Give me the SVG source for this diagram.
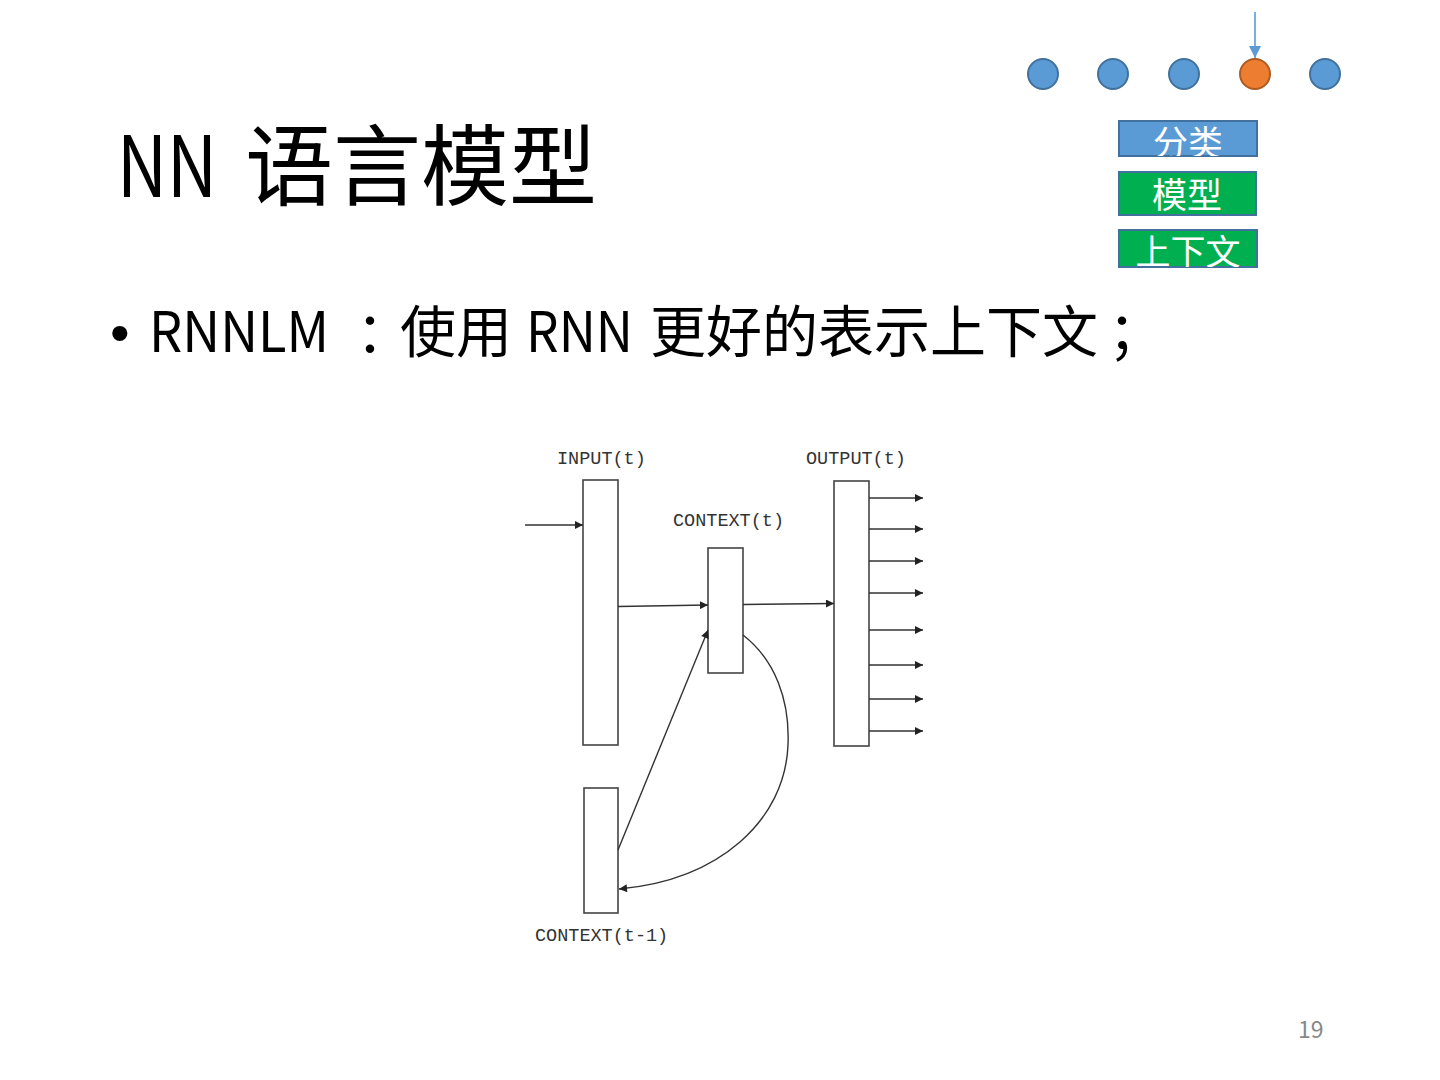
<svg xmlns="http://www.w3.org/2000/svg" width="1440" height="1080" viewBox="0 0 1440 1080">
<defs>
<style>
.cjk{font-family:"Noto Sans CJK SC","Noto Sans",sans-serif;}
.mono{font-family:"Liberation Mono","DejaVu Sans Mono",monospace;font-size:18.5px;fill:#333;}
.dot{fill:#5B9BD5;stroke:#41719C;stroke-width:2;}
.dot.cur{fill:#ED7D31;stroke:#AE5A21;}
.tag{stroke:#41719C;stroke-width:2;}
.tagtxt{fill:#fff;font-size:35px;}
.layer{fill:#fff;stroke:#444;stroke-width:1.6;}
.conn{fill:none;stroke:#333;stroke-width:1.4;}
.b{font-size:56px;fill:#000;}
</style>
<marker id="ah" viewBox="0 0 10 10" refX="10" refY="5" markerWidth="10" markerHeight="8" markerUnits="userSpaceOnUse" orient="auto">
<path d="M0,0 L10,5 L0,10 z" fill="#222"/>
</marker>
<marker id="bah" viewBox="0 0 10 10" refX="10" refY="5" markerWidth="12" markerHeight="12" markerUnits="userSpaceOnUse" orient="auto">
<path d="M0,0 L10,5 L0,10 z" fill="#5B9BD5"/>
</marker>
<clipPath id="c1"><rect x="1119" y="121" width="138" height="35"/></clipPath>
<clipPath id="c3"><rect x="1119" y="230" width="138" height="37"/></clipPath>
</defs>
<rect width="1440" height="1080" fill="#fff"/>

<g id="title">
<text class="cjk" x="117" y="197" font-size="84" fill="#000" textLength="100" lengthAdjust="spacingAndGlyphs">NN</text>
<text class="cjk" x="245" y="198" font-size="88" fill="#000">语言模型</text>
</g>
<g id="bullet">
<text x="110" y="352" font-family="Liberation Sans, sans-serif" font-size="56" fill="#000">•</text>
<text class="cjk b" x="149" y="352" textLength="180" lengthAdjust="spacingAndGlyphs">RNNLM</text>
<text class="cjk b" x="356 400 456" y="352">：使用</text>
<text class="cjk b" x="526" y="352" textLength="107" lengthAdjust="spacingAndGlyphs">RNN</text>
<text class="cjk b" x="650 706 762 818 874 930 986 1042 1108" y="352">更好的表示上下文；</text>
</g>

<g id="progress">
<circle class="dot" cx="1043" cy="74" r="15"/>
<circle class="dot" cx="1113" cy="74" r="15"/>
<circle class="dot" cx="1184" cy="74" r="15"/>
<circle class="dot cur" cx="1255" cy="74" r="15"/>
<circle class="dot" cx="1325" cy="74" r="15"/>
<line x1="1255" y1="12" x2="1255" y2="58" stroke="#5B9BD5" stroke-width="1.6" marker-end="url(#bah)"/>
</g>

<g id="tag-fenlei"><rect class="tag" x="1119" y="121" width="138" height="35" fill="#5B9BD5"/><text class="cjk tagtxt" x="1188" y="156" text-anchor="middle" clip-path="url(#c1)">分类</text></g>
<g id="tag-moxing"><rect class="tag" x="1119" y="172" width="137" height="43" fill="#00B050"/><text class="cjk tagtxt" x="1187" y="208" text-anchor="middle">模型</text></g>
<g id="tag-context"><rect class="tag" x="1119" y="230" width="138" height="37" fill="#00B050"/><text class="cjk tagtxt" x="1188" y="265" text-anchor="middle" clip-path="url(#c3)">上下文</text></g>

<g id="input"><rect class="layer" x="583" y="480" width="35" height="265"/><text class="mono" x="557" y="464">INPUT(t)</text></g>
<g id="context-t"><rect class="layer" x="708" y="548" width="35" height="125"/><text class="mono" x="673" y="526">CONTEXT(t)</text></g>
<g id="output"><rect class="layer" x="834" y="481" width="35" height="265"/><text class="mono" x="806" y="464">OUTPUT(t)</text></g>
<g id="context-t1"><rect class="layer" x="584" y="788" width="34" height="125"/><text class="mono" x="535" y="941">CONTEXT(t-1)</text></g>

<g id="connectors">
<line class="conn" x1="525" y1="525" x2="583" y2="525" marker-end="url(#ah)"/>
<line class="conn" x1="618" y1="606.5" x2="708" y2="605" marker-end="url(#ah)"/>
<line class="conn" x1="743" y1="604.5" x2="834" y2="603.5" marker-end="url(#ah)"/>
<line class="conn" x1="618" y1="850" x2="708" y2="630" marker-end="url(#ah)"/>
<path class="conn" d="M743,635 C775,660 790,700 788,745 C785,820 720,880 619,889" marker-end="url(#ah)"/>
<line class="conn" x1="869" y1="498" x2="923" y2="498" marker-end="url(#ah)"/>
<line class="conn" x1="869" y1="529" x2="923" y2="529" marker-end="url(#ah)"/>
<line class="conn" x1="869" y1="561" x2="923" y2="561" marker-end="url(#ah)"/>
<line class="conn" x1="869" y1="593" x2="923" y2="593" marker-end="url(#ah)"/>
<line class="conn" x1="869" y1="630" x2="923" y2="630" marker-end="url(#ah)"/>
<line class="conn" x1="869" y1="665" x2="923" y2="665" marker-end="url(#ah)"/>
<line class="conn" x1="869" y1="699" x2="923" y2="699" marker-end="url(#ah)"/>
<line class="conn" x1="869" y1="731" x2="923" y2="731" marker-end="url(#ah)"/>
</g>

<g id="page"><text class="cjk" x="1298" y="1038" font-size="23" fill="#888">19</text></g>
</svg>
